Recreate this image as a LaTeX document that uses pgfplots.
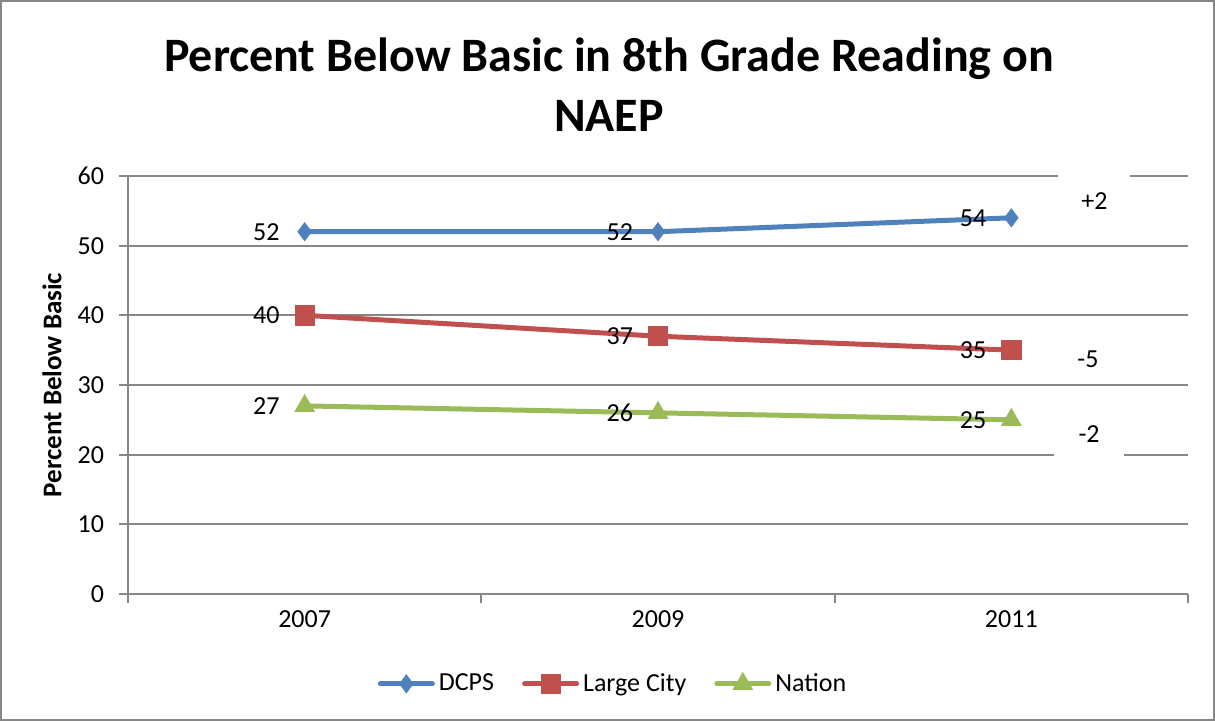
\documentclass[border=0pt]{standalone}
\usepackage{fontspec}
\setmainfont{Carlito}
\usepackage{pgfplots}
\pgfplotsset{compat=1.18}
\definecolor{dcps}{HTML}{4F81BD}
\definecolor{city}{HTML}{C0504D}
\definecolor{nation}{HTML}{9BBB59}
\definecolor{gridgray}{HTML}{868686}
\newcommand\fs{\fontsize{13}{15.5}\selectfont}

\begin{document}
\begin{tikzpicture}[x=0.5pt,y=0.5pt]
% page = 1215 x 721 px, 1px = 0.5pt; axis box at (128,594) px from top-left
\path[use as bounding box] (-128,-127) rectangle (1087,594);
\draw[gridgray, line width=1pt] (-127,-126) rectangle (1086,593);

\begin{axis}[
  at={(0,0)}, anchor=south west,
  scale only axis, width=530pt, height=209pt,
  clip=false,
  /pgf/number format/assume math mode=true,
  xmin=0.5, xmax=3.5, ymin=0, ymax=60,
  ytick={0,10,...,60},
  axis lines*=left,
  axis line style={gridgray, line width=1pt},
  ymajorgrids, grid style={gridgray, line width=1pt},
  tick style={gridgray, line width=1pt},
  tick align=outside, major tick length=4.5pt,
  xtick={0.5,1.5,2.5,3.5}, xticklabels={},
  extra x ticks={1,2,3}, extra x tick labels={2007,2009,2011},
  extra x tick style={major tick length=0pt},
  xticklabel style={font=\fs, yshift=-5pt},
  yticklabel style={font=\fs, xshift=-4pt},
  ylabel={Percent Below Basic},
  ylabel style={font=\fontsize{13.5}{15}\selectfont\bfseries,
    at={(axis description cs:-0.0717,0.5)}, anchor=center},
  every node near coord/.append style={font=\fs, anchor=east, xshift=-9pt, text=black},
  nodes near coords={\pgfmathprintnumber{\pgfplotspointmeta}},
  legend style={at={(axis description cs:0.4585,-0.215)}, anchor=center,
    draw=none, fill=none, font=\fs, legend columns=3,
    /tikz/every even column/.append style={column sep=12pt}},
  legend image code/.code={
    \draw[#1, mark repeat=2, mark phase=2, line cap=round]
      plot coordinates {(0pt,0pt) (13pt,0pt) (26pt,0pt)};},
]
\addplot[color=dcps, line width=2.5pt, mark=diamond*,
  mark options={line width=0.4pt}, mark size=4.5pt]
  coordinates {(1,52) (2,52) (3,54)};
\addlegendentry{DCPS}
\addplot[color=city, line width=2.5pt, mark=square*,
  mark options={line width=0.4pt}, mark size=4.8pt]
  coordinates {(1,40) (2,37) (3,35)};
\addlegendentry{Large City}
\addplot[color=nation, line width=2.5pt, mark=triangle*,
  mark options={line width=0.4pt}, mark size=5.6pt]
  coordinates {(1,27) (2,26) (3,25)};
\addlegendentry{Nation}

\node[font=\fs, fill=white, minimum width=36pt, minimum height=31pt, inner sep=0pt]
  at (axis cs:3.235,56.4) {+2};
\node[font=\fs, inner sep=0pt] at (axis cs:3.217,33.7) {-5};
\node[font=\fs, fill=white, minimum width=35pt, minimum height=30pt, inner sep=0pt]
  at (axis cs:3.22,23.0) {-2};
\end{axis}

\node[font=\fontsize{24}{30}\selectfont\bfseries, align=center] at (481,509)
  {Percent Below Basic in 8th Grade Reading on\\NAEP};
\end{tikzpicture}
\end{document}
